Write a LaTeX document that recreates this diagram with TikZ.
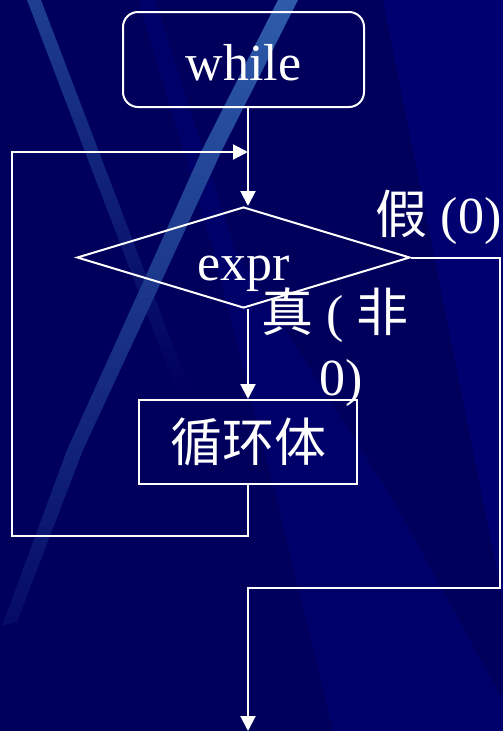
\documentclass[tikz,border=0pt]{standalone}
\usepackage{fontspec}
\setmainfont{Liberation Serif}
\newfontfamily\cjk{Noto Sans CJK SC}
\usetikzlibrary{arrows.meta,shapes.geometric}
\definecolor{bgnavy}{RGB}{0,0,92}
\definecolor{navylight}{RGB}{0,0,112}
\definecolor{navymid}{RGB}{0,0,106}
\definecolor{bandA}{RGB}{46,92,170}
\definecolor{bandB}{RGB}{30,62,145}
\tikzset{
  txt/.style={font=\fontsize{52}{62}\selectfont, text=white, inner sep=0pt},
  boxline/.style={draw=white, line width=2pt},
  conn/.style={draw=white, line width=2pt},
  arr/.style={conn, -{Triangle[width=15pt,length=15pt]}},
}
\begin{document}
\begin{tikzpicture}[x=1pt,y=-1pt]
\useasboundingbox (0,0) rectangle (503,731);
% background
\fill[bgnavy] (0,0) rectangle (503,731);
\fill[navylight] (383,0) -- (503,0) -- (503,600) -- cycle;
\fill[navymid] (138,0) -- (155,0) -- (235,250) -- (393,500) -- (503,700) -- (503,731) -- (333,731) -- (277,500) -- (213,250) -- cycle;
\shade[top color=bandB, middle color=bandB!75!bgnavy, bottom color=bgnavy] (27,0) -- (41,0) -- (190,390) -- (176,390) -- cycle;
\shade[top color=bandA, middle color=bandA!80!bgnavy, bottom color=bandA!12!bgnavy] (278,0) -- (298,0) -- (222,150) -- (162,280) -- (83,450) -- (17,622) -- (2,626) -- (67,450) -- (144,280) -- (202,150) -- cycle;
% nodes
\node[txt, boxline, rounded corners=15pt, minimum width=241pt, minimum height=95pt, text height=41pt, text depth=0pt] (while) at (243.5,59.5) {while};
\node[boxline, shape=diamond, minimum width=333pt, minimum height=101pt, inner sep=0pt] (cond) at (243.5,257.5) {};
\node[txt, anchor=base] (exprtxt) at (243.5,280) {expr};
\node[txt, boxline, minimum width=218pt, minimum height=84pt] (body) at (248,442) {\cjk 循环体};
\node[txt, anchor=base] (falsetxt) at (438.5,233) {{\cjk 假} (0)};
\node[txt, anchor=base] (truetxt) at (335,331) {{\cjk 真} ( {\cjk 非}};
\node[txt, anchor=base] (truetxtb) at (341.5,395) {0)};
% coordinates
\coordinate (mx) at (248,0);
\coordinate (loopBL) at (12,536);
\coordinate (loopTL) at (12,152);
\coordinate (join) at (248,152);
\coordinate (rt) at (500,588);
\coordinate (exit) at (248,731);
% connectors
\draw[arr] (while.south -| mx) -- (cond.north -| mx);
\draw[arr] (cond.south -| mx) -- (body.north);
\draw[arr] (body.south) |- (loopBL) -- (loopTL) -- (join);
\draw[arr] (cond.east) -- (cond.east -| rt) -- (rt) -- (rt -| exit) -- (exit);
\end{tikzpicture}
\end{document}
